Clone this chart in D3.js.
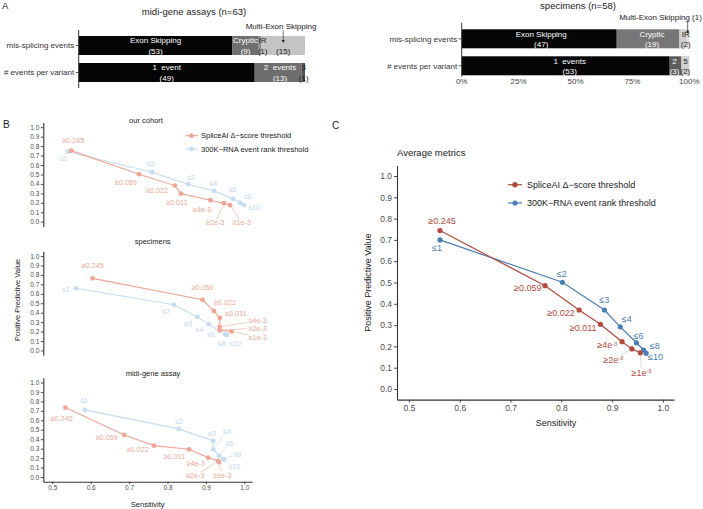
<!DOCTYPE html>
<html><head><meta charset="utf-8">
<script src="https://cdn.jsdelivr.net/npm/d3@7"></script>
<style>
body{margin:0;background:#fff}
svg{display:block}
text{font-family:"Liberation Sans",Arial,Helvetica,sans-serif;white-space:pre}
</style>
</head><body>
<svg id="chart" width="703" height="509"></svg>
<script>
// ---------------- DATA ----------------
const barRows = ["mis-splicing events", "# events per variant"];
const midiSplicingCats = ["Exon Skipping", "Cryptic", "IR", "Multi-Exon Skipping"];
const midiSplicingCounts = [53, 9, 1, 15];
const midiEventCats = ["1  event", "2  events", "3"];
const midiEventCounts = [49, 13, 1];
const specSplicingCats = ["Exon Skipping", "Cryptic", "IR", "Multi-Exon Skipping"];
const specSplicingCounts = [47, 19, 2, 1];
const specEventCats = ["1  events", "2", "5"];
const specEventCounts = [53, 3, 2];
const pctTicks = [0, 0.25, 0.5, 0.75, 1];

const spliceLabels = ["≥0.245", "≥0.059", "≥0.022", "≥0.011", "≥4e-3", "≥2e-3", "≥1e-3"];
const rankLabels = ["≤1", "≤2", "≤3", "≤4", "≤6", "≤8", "≤10"];
const seriesNames = ["SpliceAI Δ−score threshold", "300K−RNA event rank threshold"];
const sensTicks = [0.5, 0.6, 0.7, 0.8, 0.9, 1.0];
const ppvTicks = [0, 0.1, 0.2, 0.3, 0.4, 0.5, 0.6, 0.7, 0.8, 0.9, 1.0];

// our cohort
const cohortSpliceSens = [0.549, 0.726, 0.819, 0.835, 0.912, 0.947, 0.963];
const cohortSplicePPV  = [0.752, 0.503, 0.382, 0.297, 0.227, 0.195, 0.174];
const cohortRankSens   = [0.540, 0.760, 0.854, 0.921, 0.971, 0.989, 0.999];
const cohortRankPPV    = [0.740, 0.524, 0.397, 0.326, 0.241, 0.201, 0.177];
// specimens
const specSpliceSens = [0.605, 0.891, 0.921, 0.936, 0.936, 0.936, 0.967];
const specSplicePPV  = [0.763, 0.537, 0.418, 0.345, 0.251, 0.216, 0.200];
const specRankSens   = [0.562, 0.817, 0.878, 0.907, 0.935, 0.950, 0.955];
const specRankPPV    = [0.658, 0.485, 0.355, 0.279, 0.210, 0.170, 0.165];
// midi-gene assay
const midiSpliceSens = [0.534, 0.6875, 0.765, 0.856, 0.906, 0.932, 0.934];
const midiSplicePPV  = [0.735, 0.445, 0.332, 0.293, 0.205, 0.170, 0.155];
const midiRankSens   = [0.585, 0.829, 0.919, 0.919, 0.934, 0.945, 0.947];
const midiRankPPV    = [0.710, 0.509, 0.382, 0.293, 0.223, 0.191, 0.185];
// average metrics
const avgSpliceSens = [0.561, 0.768, 0.835, 0.877, 0.9195, 0.939, 0.9556];
const avgSplicePPV  = [0.744, 0.485, 0.371, 0.304, 0.222, 0.188, 0.170];
const avgRankSens   = [0.561, 0.802, 0.885, 0.916, 0.948, 0.962, 0.967];
const avgRankPPV    = [0.700, 0.501, 0.371, 0.292, 0.217, 0.183, 0.168];

// ---------------- DRAWING ----------------
const svg = d3.select("#chart");
svg.append("rect").attr("width", 703).attr("height", 509).attr("fill", "#fff");

function text(g, x, y, s, size, o = {}) {
  return g.append("text").attr("x", x).attr("y", y).attr("dy", "0.35em")
    .attr("font-size", size).attr("fill", o.fill || "#1a1a1a")
    .attr("text-anchor", o.anchor || "middle").text(s);
}

// panel letters
text(svg, 2, 6, "A", 9.5, {anchor: "start"});
text(svg, 3, 124, "B", 10, {anchor: "start"});
text(svg, 332, 125, "C", 10, {anchor: "start"});

// ---- Panel A ----
function drawStack(cfg) {
  const g = svg.append("g");
  const x = d3.scaleLinear().domain([0, 1]).range([cfg.x0, cfg.x1]);
  const y = d3.scaleBand().domain(barRows).range([cfg.yTop, cfg.yBot]).paddingInner(0.296);
  text(g, cfg.titleX, cfg.titleY, cfg.title, 9.5);
  cfg.rows.forEach((row, ri) => {
    const total = d3.sum(row.counts);
    const cum = [0, ...d3.cumsum(row.counts)].map(v => v / total);
    const yy = y(barRows[ri]), bw = y.bandwidth(), cy = yy + bw / 2;
    row.counts.forEach((c, j) => {
      g.append("rect").attr("x", x(cum[j])).attr("y", yy)
        .attr("width", x(cum[j + 1]) - x(cum[j])).attr("height", bw)
        .attr("fill", row.colors[j]);
    });
    row.counts.forEach((c, j) => {
      const mode = row.modes[j];
      const cx = (x(cum[j]) + x(cum[j + 1])) / 2 + (row.shift ? row.shift[j] : 0);
      const col = row.textColors[j];
      if (mode === "both" || mode === "name") text(g, cx, cy - 5, row.cats[j], 8, {fill: col});
      if (mode === "both" || mode === "count") text(g, cx, cy + 5.3, "(" + c + ")", 8, {fill: col});
      if (row.arrow && row.arrow[j]) {
        const a = row.arrow[j];
        const ax = (x(cum[j]) + x(cum[j + 1])) / 2;
        text(g, a.tx, a.ty, a.label, 8, {fill: "#1a1a1a"});
        g.append("line").attr("x1", ax).attr("x2", ax).attr("y1", a.ty + 4).attr("y2", yy + a.tip - 2.5)
          .attr("stroke", "#333").attr("stroke-width", 0.7);
        g.append("path").attr("d", `M${ax - 1.6},${yy + a.tip - 3}L${ax + 1.6},${yy + a.tip - 3}L${ax},${yy + a.tip}Z`)
          .attr("fill", "#222");
      }
    });
    // y tick + label
    g.append("line").attr("x1", cfg.x0 - 3).attr("x2", cfg.x0).attr("y1", cy).attr("y2", cy)
      .attr("stroke", "#333").attr("stroke-width", 0.8);
    text(g, cfg.x0 - 4.5, cy, barRows[ri], 8, {anchor: "end", fill: "#333"});
  });
  g.append("line").attr("x1", cfg.x0).attr("x2", cfg.x0).attr("y1", cfg.axTop).attr("y2", cfg.axBot)
    .attr("stroke", "#333").attr("stroke-width", 1);
  if (cfg.xTicks) {
    pctTicks.forEach(t => text(g, x(t), cfg.tickY, d3.format(".0%")(t), 8, {fill: "#444"}));
  }
}

drawStack({
  x0: 78.7, x1: 305, yTop: 36, yBot: 82, axTop: 30, axBot: 88,
  title: "midi-gene assays (n=63)", titleX: 194, titleY: 12,
  rows: [
    {cats: midiSplicingCats, counts: midiSplicingCounts,
     colors: ["#050505", "#6f6f6f", "#8a8a8a", "#c4c4c4"],
     textColors: ["#fff", "#fff", "#222", "#222"],
     modes: ["both", "both", "both", "count"], shift: [0, 0, 2.5, 0],
     arrow: [null, null, null, {label: "Multi-Exon Skipping", tx: 281, ty: 26.5, tip: 7}]},
    {cats: midiEventCats, counts: midiEventCounts,
     colors: ["#050505", "#6e6e6e", "#545454"],
     textColors: ["#fff", "#fff", "#222"],
     modes: ["both", "both", "both"], shift: [0, 2, 0.5]}
  ]
});

drawStack({
  x0: 461.7, x1: 689.3, yTop: 29.3, yBot: 75.3, axTop: 22.7, axBot: 76.5,
  title: "specimens (n=58)", titleX: 578, titleY: 5.5, xTicks: true, tickY: 81,
  rows: [
    {cats: specSplicingCats, counts: specSplicingCounts,
     colors: ["#050505", "#767676", "#cfcfcf", "#dedede"],
     textColors: ["#fff", "#fff", "#222", "#222"],
     modes: ["both", "both", "both", "none"], shift: [2, 4, 3, 0],
     arrow: [null, null, null, {label: "Multi-Exon Skipping (1)", tx: 660.5, ty: 16.7, tip: 4.5}]},
    {cats: specEventCats, counts: specEventCounts,
     colors: ["#050505", "#5c5c5c", "#cfcfcf"],
     textColors: ["#fff", "#fff", "#222"],
     modes: ["both", "both", "both"], shift: [4, -1, 0]}
  ]
});

// ---- Panels B & C ----
function drawPR(o) {
  const g = svg.append("g");
  const x = o.x, y = o.y;
  const ya = g.append("g").attr("transform", `translate(${x.range()[0]},0)`)
    .call(d3.axisLeft(y).tickValues(ppvTicks).tickFormat(d3.format(".1f"))
      .tickSize(o.tick).tickSizeOuter(0).tickPadding(o.pad));
  ya.attr("font-size", o.tickFont).attr("font-family", null).attr("color", "#333");
  ya.selectAll("text").attr("fill", "#4d4d4d");
  ya.select(".domain").attr("stroke-width", o.axW);
  ya.selectAll(".tick line").attr("stroke-width", o.axW * 0.8);
  if (o.xAxis) {
    const xa = g.append("g").attr("transform", `translate(0,${y.range()[0]})`)
      .call(d3.axisBottom(x).tickValues(sensTicks).tickFormat(d3.format(".1f"))
        .tickSize(o.tick).tickSizeOuter(0).tickPadding(o.pad));
    xa.attr("font-size", o.tickFont).attr("font-family", null).attr("color", "#333");
    xa.selectAll("text").attr("fill", "#4d4d4d");
    xa.select(".domain").attr("stroke-width", o.axW);
    xa.selectAll(".tick line").attr("stroke-width", o.axW * 0.8);
    text(g, o.xLabX, o.xLabY, "Sensitivity", o.labFont);
  }
  if (o.title) text(g, o.title.x, o.title.y, o.title.s, o.title.size, {anchor: o.title.anchor || "middle"});

  const series = [
    {sens: o.rankSens, ppv: o.rankPPV, labels: rankLabels, color: o.blue, lcol: o.blueLab, off: o.rankOff},
    {sens: o.spliceSens, ppv: o.splicePPV, labels: spliceLabels, color: o.red, lcol: o.redLab, off: o.spliceOff}
  ];
  const line = d3.line().x(d => x(d[0])).y(d => y(d[1]));
  series.forEach(s => {
    const pts = s.sens.map((v, i) => [v, s.ppv[i]]);
    g.append("path").attr("d", line(pts)).attr("fill", "none")
      .attr("stroke", s.color).attr("stroke-width", o.lineW);
    pts.forEach(p => g.append("circle").attr("cx", x(p[0])).attr("cy", y(p[1]))
      .attr("r", o.r).attr("fill", s.color));
  });
  const lg = g.append("g");
  series.forEach(s => {
    s.labels.forEach((lab, i) => {
      const px = x(s.sens[i]), py = y(s.ppv[i]);
      const off = s.off[i];
      const lx = px + off[0], ly = py + off[1];
      const t = lg.append("text").attr("x", lx).attr("y", ly).attr("dy", "0.35em")
        .attr("text-anchor", "middle").attr("font-size", o.ptFont).attr("fill", s.lcol);
      const m = o.sup ? lab.match(/^(.*e)(-\d)$/) : null;
      if (m) {
        t.append("tspan").text(m[1]);
        t.append("tspan").attr("font-size", o.ptFont * 0.65).attr("dy", "-0.45em").text(m[2]);
      } else t.text(lab);
      if (off[2]) {
        const w = t.node().getComputedTextLength() / 2 + 1, h = o.ptFont * 0.5;
        const dx = lx - px, dy = ly - py;
        const k = Math.min(Math.abs(dx) > 0.01 ? w / Math.abs(dx) : 99, Math.abs(dy) > 0.01 ? h / Math.abs(dy) : 99);
        const len = Math.hypot(dx, dy);
        g.insert("line", ":first-child")
          .attr("x1", px + dx / len * (o.r + 0.5)).attr("y1", py + dy / len * (o.r + 0.5))
          .attr("x2", lx - dx * k).attr("y2", ly - dy * k)
          .attr("stroke", o.leader || s.lcol).attr("stroke-width", 0.6);
      }
    });
  });
  if (o.legend) {
    const L = o.legend;
    [series[1], series[0]].forEach((s, i) => {
      const yy = L.y + i * L.dy;
      g.append("line").attr("x1", L.x).attr("x2", L.x + L.w).attr("y1", yy).attr("y2", yy)
        .attr("stroke", s.color).attr("stroke-width", o.lineW);
      g.append("circle").attr("cx", L.x + L.w / 2).attr("cy", yy).attr("r", o.r).attr("fill", s.color);
      text(g, L.x + L.w + L.gap, yy, seriesNames[i], L.size, {anchor: "start"});
    });
  }
}

const xB = d3.scaleLinear().domain([0.4766, 1.0208]).range([43.3, 252.3]);
const yBAt = y0 => d3.scaleLinear().domain([-0.05, 1.05]).range([y0 + 0.05 * 94.5, y0 - 1.05 * 94.5]);
const bStyle = {
  x: xB, tick: 2.5, pad: 1.5, tickFont: 6.5, axW: 1.1, lineW: 1.1, r: 2.4, ptFont: 7.3, labFont: 7.5,
  red: "#efa596", blue: "#c6dcf0", redLab: "#f0a898", blueLab: "#c2d8ee"
};

drawPR(Object.assign({}, bStyle, {
  y: yBAt(221.7),
  spliceSens: cohortSpliceSens, splicePPV: cohortSplicePPV, rankSens: cohortRankSens, rankPPV: cohortRankPPV,
  title: {x: 146, y: 120, s: "our cohort", size: 7.5},
  spliceOff: [[2, -10], [-13.3, 8], [-17.8, 4.4], [-4.1, 9.1], [-8.8, 9.1], [-9, 19.4, 1], [11.6, 17.4, 1]],
  rankOff: [[-4.4, 6.5], [-1.4, -9.2], [2.5, -6.9], [-0.7, -7.6], [-0.9, -9.9], [7.2, -6], [10.3, 2.3]],
  legend: {x: 185, y: 135.7, dy: 13.3, w: 13, gap: 3, size: 7.5}
}));

drawPR(Object.assign({}, bStyle, {
  y: yBAt(350.5),
  spliceSens: specSpliceSens, splicePPV: specSplicePPV, rankSens: specRankSens, rankPPV: specRankPPV,
  title: {x: 152.7, y: 241, s: "specimens", size: 7.5},
  spliceOff: [[0, -12.7], [0, -12], [11, -8.7], [16, -4], [37.8, -6.1, 1], [37.8, -1.8, 1], [26, 5.4, 1]],
  rankOff: [[-10.3, 0.7], [-8.3, 7], [-9.2, 6.4], [-9.3, 4.9], [-8.6, 3.3], [-3.4, 8.9], [8, 8.4]]
}));

drawPR(Object.assign({}, bStyle, {
  y: yBAt(477),
  spliceSens: midiSpliceSens, splicePPV: midiSplicePPV, rankSens: midiRankSens, rankPPV: midiRankPPV,
  title: {x: 153, y: 373, s: "midi-gene assay", size: 7.5},
  xAxis: true, xLabX: 147.7, xLabY: 504,
  spliceOff: [[-3.7, 10.8], [-17.6, 2.7], [-16.4, 3.4], [-14.7, 6.7], [-12.5, 5.7], [-23.2, 14.8, 1], [3.4, 13.3, 1]],
  rankOff: [[-1, -9.9], [0.4, -7.9], [-1.2, -7.6], [13.5, -17.6, 1], [10.3, -12.6, 1], [14.1, -4.7, 1], [10.4, 7.2, 1]]
}));

// B y label
svg.append("text").attr("transform", "translate(17,300) rotate(-90)").attr("dy", "0.35em")
  .attr("text-anchor", "middle").attr("font-size", 7.5).attr("fill", "#1a1a1a").text("Positive Predictive Value");

// Panel C
drawPR({
  x: d3.scaleLinear().domain([0.4764, 1.0219]).range([397, 674]),
  y: d3.scaleLinear().domain([-0.05, 1.05]).range([399.65, 165.35]),
  tick: 3, pad: 2, tickFont: 8.5, axW: 1.1, lineW: 1.2, r: 2.6, ptFont: 9, labFont: 9, sup: true,
  red: "#b34a3c", blue: "#4a7db6", redLab: "#b34a3c", blueLab: "#4a7db6", leader: "#c9c9c9",
  spliceSens: avgSpliceSens, splicePPV: avgSplicePPV, rankSens: avgRankSens, rankPPV: avgRankPPV,
  title: {x: 397, y: 153, s: "Average metrics", size: 9.5, anchor: "start"},
  xAxis: true, xLabX: 556, xLabY: 423,
  spliceOff: [[2, -10], [-17.3, 2.3], [-18, 3.3], [-17.3, 4.1], [-14.7, 3.3], [-18.6, 11, 1], [1.2, 19.9, 1]],
  rankOff: [[-3, 8], [-0.5, -8.3], [-0.3, -10], [6.6, -7.8], [2, -6.8], [11.1, -4.3], [9.4, 3.5]],
  legend: {x: 508, y: 184.7, dy: 18.3, w: 14, gap: 5, size: 9}
});
svg.append("text").attr("transform", "translate(368,282.5) rotate(-90)").attr("dy", "0.35em")
  .attr("text-anchor", "middle").attr("font-size", 9).attr("fill", "#1a1a1a").text("Positive Predictive Value");
</script>
</body></html>
